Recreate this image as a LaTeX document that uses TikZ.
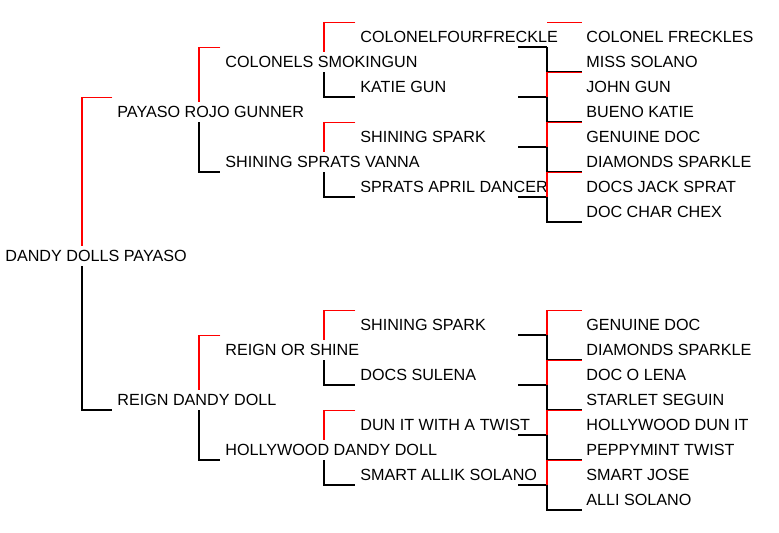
\documentclass[tikz,border=0pt]{standalone}
\usepackage{fontspec}
\setmainfont{Liberation Sans}
\usetikzlibrary{calc}

% bracket: vertical, parent, sire, dam
\newcommand{\pedline}[4]{%
  \draw[sireline] ([shift={(-2.6pt,8.5pt)}]#3.west) -| ([yshift=5.7pt]#1 |- #2.west);
  \draw[damline] ([yshift=-5.7pt]#1 |- #2.west) |- ([shift={(-2.6pt,-5.7pt)}]#4.west);
}
% last generation: tail under the parent
\newcommand{\pedtail}[4]{%
  \draw[damline] ([shift={(-16.4pt,-5.7pt)}]#1 |- #2.west) -- ([yshift=-5.7pt]#1 |- #2.west);
  \draw[sireline] ([shift={(-2.3pt,8.5pt)}]#3.west) -| ([yshift=-5.7pt]#1 |- #2.west);
  \draw[damline] ([yshift=-5.7pt]#1 |- #2.west) |- ([shift={(-2.3pt,-5.7pt)}]#4.west);
}
\newcommand{\pedtop}[4]{%
  \draw[damline] ([shift={(-16.4pt,-5.7pt)}]#1 |- #2.west) -- ([yshift=-5.7pt]#1 |- #2.west);
  \draw[sireline] ([shift={(-2.3pt,8.5pt)}]#3.west) -- ([yshift=8.5pt]#1 |- #3.west);
  \draw[damline] ([yshift=-5.7pt]#1 |- #2.west) |- ([shift={(-2.3pt,-5.7pt)}]#4.west);
}

\begin{document}
\begin{tikzpicture}[
    x=0.02cm, y=-0.02cm,
    every node/.style={anchor=west, inner sep=0pt, font=\fontsize{9.2}{11}\selectfont},
    sireline/.style={red, line width=0.6pt},
    damline/.style={black, line width=0.6pt}
  ]
  \useasboundingbox (0,0) rectangle (779,533);

  % verticals of each generation
  \coordinate (v0) at (82,0);
  \coordinate (v1) at (199,0);
  \coordinate (v2) at (324,0);
  \coordinate (v3) at (547,0);

  % horse
  \node (h) at (5,256) {DANDY DOLLS PAYASO};

  % parents
  \node (s) at (117,112) {PAYASO ROJO GUNNER};
  \node (d) at (117,400) {REIGN DANDY DOLL};

  % grandparents
  \node (ss) at (225,62) {COLONELS SMOKINGUN};
  \node (sd) at (225,162) {SHINING SPRATS VANNA};
  \node (ds) at (225,350) {REIGN OR SHINE};
  \node (dd) at (225,450) {HOLLYWOOD DANDY DOLL};

  % great grandparents
  \node (sss) at (360,37) {COLONELFOURFRECKLE};
  \node (ssd) at (360,87) {KATIE GUN};
  \node (sds) at (360,137) {SHINING SPARK};
  \node (sdd) at (360,187) {SPRATS APRIL DANCER};
  \node (dss) at (360,325) {SHINING SPARK};
  \node (dsd) at (360,375) {DOCS SULENA};
  \node (dds) at (360,425) {DUN IT WITH A TWIST};
  \node (ddd) at (360,475) {SMART ALLIK SOLANO};

  % fourth generation
  \node (ssss) at (586,37) {COLONEL FRECKLES};
  \node (sssd) at (586,62) {MISS SOLANO};
  \node (ssds) at (586,87) {JOHN GUN};
  \node (ssdd) at (586,112) {BUENO KATIE};
  \node (sdss) at (586,137) {GENUINE DOC};
  \node (sdsd) at (586,162) {DIAMONDS SPARKLE};
  \node (sdds) at (586,187) {DOCS JACK SPRAT};
  \node (sddd) at (586,212) {DOC CHAR CHEX};
  \node (dsss) at (586,325) {GENUINE DOC};
  \node (dssd) at (586,350) {DIAMONDS SPARKLE};
  \node (dsds) at (586,375) {DOC O LENA};
  \node (dsdd) at (586,400) {STARLET SEGUIN};
  \node (ddss) at (586,425) {HOLLYWOOD DUN IT};
  \node (ddsd) at (586,450) {PEPPYMINT TWIST};
  \node (ddds) at (586,475) {SMART JOSE};
  \node (dddd) at (586,500) {ALLI SOLANO};

  % brackets
  \pedline{v0}{h}{s}{d}
  \pedline{v1}{s}{ss}{sd}
  \pedline{v1}{d}{ds}{dd}
  \pedline{v2}{ss}{sss}{ssd}
  \pedline{v2}{sd}{sds}{sdd}
  \pedline{v2}{ds}{dss}{dsd}
  \pedline{v2}{dd}{dds}{ddd}
  \pedtop{v3}{sss}{ssss}{sssd}
  \pedtail{v3}{ssd}{ssds}{ssdd}
  \pedtail{v3}{sds}{sdss}{sdsd}
  \pedtail{v3}{sdd}{sdds}{sddd}
  \pedtail{v3}{dss}{dsss}{dssd}
  \pedtail{v3}{dsd}{dsds}{dsdd}
  \pedtail{v3}{dds}{ddss}{ddsd}
  \pedtail{v3}{ddd}{ddds}{dddd}
\end{tikzpicture}
\end{document}
